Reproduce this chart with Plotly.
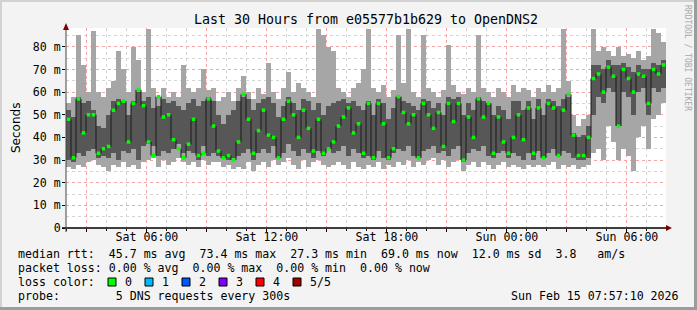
import plotly.graph_objects as go
import pandas as pd

# ---------------- data (ms) : one column = 15 minutes ----------------
lo = [27,26,28,27,29,30,28,27,25,28,27,29,27,28,26,29,30,31,27,30,28,29,31,29,28,29,27,30,28,29,
      29,27,28,26,27,26,29,25,28,29,27,30,28,29,31,28,26,30,27,29,30,28,27,28,29,28,26,29,27,26,
      28,27,29,26,28,27,29,28,30,27,29,28,30,31,28,30,27,29,30,25,28,29,27,29,28,26,28,29,27,28,
      27,26,28,27,28,27,28,29,26,28,27,28,26,27,28,33,35,30,45,38,30,35,32,25,40,45,35,48,50,55]
q1 = [30,29,33,32,34,35,31,32,31,33,30,34,33,35,30,36,37,36,32,34,33,35,37,33,34,33,30,36,32,33,
      32,31,30,31,32,33,35,30,33,35,33,36,31,33,37,34,32,35,33,31,34,32,35,33,34,36,32,35,33,31,
      32,30,34,31,30,33,35,34,36,32,31,34,35,36,33,34,32,35,36,29,33,35,34,36,32,31,33,34,31,33,
      32,30,33,30,34,31,33,35,32,34,33,31,30,30,31,50,58,55,62,60,45,60,58,50,60,62,50,62,60,62]
q3 = [52,49,58,55,56,52,45,44,50,56,57,55,50,56,60,56,58,53,54,57,55,56,54,52,55,57,54,56,58,56,
      50,46,50,52,56,58,57,52,55,57,58,55,49,54,58,55,52,57,56,52,55,50,54,55,56,57,55,56,54,52,
      56,50,57,55,48,53,58,56,55,54,52,57,56,53,55,50,58,57,58,50,55,52,58,56,55,50,54,52,48,56,
      56,52,56,48,57,50,57,56,54,57,58,42,40,41,45,72,72,70,74,72,72,73,71,69,72,70,70,73,72,74]
hi = [55,58,85,72,60,87,60,58,62,65,78,70,60,80,74,60,88,62,58,62,58,60,58,72,62,60,62,70,61,62,
      56,58,60,56,62,67,60,57,62,59,73,60,57,62,69,60,64,62,60,58,88,85,80,78,62,60,58,62,64,70,
      88,62,60,63,58,61,85,64,88,60,58,85,62,60,58,61,81,63,60,59,62,60,85,62,60,58,62,60,58,63,
      60,62,61,58,62,60,63,60,62,88,65,50,45,48,50,88,78,80,78,76,80,76,77,75,78,74,76,88,86,82]
med = [48,31,57,42,50,50,33,35,36,52,55,56,38,55,61,54,38,32,58,49,50,39,35,31,37,48,32,33,57,45,
       34,31,32,30,38,59,48,33,43,52,41,40,31,48,56,50,40,52,44,34,48,33,35,38,45,49,53,42,46,33,
       55,31,55,46,31,35,58,51,46,50,31,55,50,44,51,36,55,47,55,30,49,40,57,49,55,33,49,38,33,40,
       50,39,53,33,53,31,55,53,32,52,59,41,32,32,40,66,68,60,71,67,45,70,66,60,68,67,55,70,68,72]

y_ticks = [0, 10, 20, 30, 40, 50, 60, 70, 80]
y_tick_text = ["0", "10 m", "20 m", "30 m", "40 m", "50 m", "60 m", "70 m", "80 m"]
x_tick_vals = ["2026-02-14 03:00", "2026-02-14 06:00", "2026-02-14 09:00", "2026-02-14 12:00",
               "2026-02-14 15:00", "2026-02-14 18:00", "2026-02-14 21:00", "2026-02-15 00:00",
               "2026-02-15 03:00", "2026-02-15 06:00"]
x_tick_text = ["", "Sat 06:00", "", "Sat 12:00", "", "Sat 18:00", "", "Sun 00:00", "", "Sun 06:00"]

t_start = pd.Timestamp("2026-02-14 01:57:10")
t_end = pd.Timestamp("2026-02-15 07:57:10")
step = pd.Timedelta(minutes=15)
n = len(med)
edges = [t_start + i * step for i in range(n + 1)]
centers = [t_start + (i + 0.5) * step for i in range(n)]
width_ms = step.total_seconds() * 1000

loss_labels = ["0", "1", "2", "3", "4", "5/5"]
loss_colors = ["#00ff00", "#00b8ff", "#0059ff", "#7e00ff", "#ff0000", "#a00000"]

MONO = "DejaVu Sans Mono"

fig = go.Figure()
fig.add_trace(go.Bar(x=centers, y=[h - l for h, l in zip(hi, lo)], base=lo, width=width_ms,
                     marker=dict(color="#a6a6a6", line=dict(width=0)), hoverinfo="skip"))
fig.add_trace(go.Bar(x=centers, y=[h - l for h, l in zip(q3, q1)], base=q1, width=width_ms,
                     marker=dict(color="#575757", line=dict(width=0)), hoverinfo="skip"))
# median line (vertical jumps)
vx, vy = [], []
for i in range(n - 1):
    vx += [edges[i + 1], edges[i + 1], None]
    vy += [med[i], med[i + 1], None]
fig.add_trace(go.Scatter(x=vx, y=vy, mode="lines", line=dict(color="#1a1a1a", width=1),
                         hoverinfo="skip"))
fig.add_trace(go.Scatter(x=centers, y=med, mode="markers",
                         marker=dict(symbol="square", size=3.5, color="#00ff00", line=dict(width=0)),
                         hoverinfo="skip"))

W, H = 697, 310
L, R, T, B = 66, 31, 28, 82
pw, ph = W - L - R, H - T - B


def px(x):
    return (x - L) / pw


def py(y):
    return (H - B - y) / ph


shapes = []
# frame
shapes.append(dict(type="rect", xref="paper", yref="paper", x0=px(0), x1=px(W), y0=py(0), y1=py(2),
                   fillcolor="#d2d2d2", line=dict(width=0), layer="below"))
shapes.append(dict(type="rect", xref="paper", yref="paper", x0=px(0), x1=px(2), y0=py(0), y1=py(H),
                   fillcolor="#d2d2d2", line=dict(width=0), layer="below"))
shapes.append(dict(type="rect", xref="paper", yref="paper", x0=px(W - 3), x1=px(W), y0=py(0), y1=py(H),
                   fillcolor="#9c9c9c", line=dict(width=0)))
shapes.append(dict(type="rect", xref="paper", yref="paper", x0=px(0), x1=px(W), y0=py(H - 3), y1=py(H),
                   fillcolor="#9c9c9c", line=dict(width=0)))
# axis lines
shapes.append(dict(type="line", xref="paper", yref="paper", x0=px(62), x1=px(667), y0=0, y1=0,
                   line=dict(color="#000000", width=1.5)))
shapes.append(dict(type="line", xref="paper", yref="paper", x0=0, x1=0, y0=py(232), y1=py(30),
                   line=dict(color="#444444", width=1)))
# arrows
shapes.append(dict(type="path", xref="paper", yref="paper",
                   path=f"M {px(666)},{py(225)} L {px(672)},{py(228)} L {px(666)},{py(231)} Z",
                   fillcolor="#7f0000", line=dict(width=0)))
shapes.append(dict(type="path", xref="paper", yref="paper",
                   path=f"M {px(63)},{py(30)} L {px(66)},{py(23)} L {px(69)},{py(30)} Z",
                   fillcolor="#7f0000", line=dict(width=0)))
# loss colour boxes
bx = [108, 145, 182, 219, 256, 293]
for x0, c in zip(bx, loss_colors):
    shapes.append(dict(type="rect", xref="paper", yref="paper", x0=px(x0), x1=px(x0 + 8),
                       y0=py(286), y1=py(278), fillcolor=c, line=dict(color="#000000", width=1)))

font_small = dict(family=MONO, size=11.6, color="#000000")
annotations = []


def txt(x, y, s, anchor="left", **kw):
    annotations.append(dict(xref="paper", yref="paper", x=px(x), y=py(y), text=s, showarrow=False,
                            xanchor=anchor, yanchor="middle", font=kw.get("font", font_small)))


txt(16, 254, "median rtt:  45.7 ms avg  73.4 ms max  27.3 ms min  69.0 ms now  12.0 ms sd  3.8   am/s".replace(" ", "&nbsp;"))
txt(16, 268, "packet loss: 0.00 % avg  0.00 % max  0.00 % min  0.00 % now".replace(" ", "&nbsp;"))
txt(16, 282, "loss color:")
for x0, lab in zip(bx, loss_labels):
    txt(x0 + 15, 282, lab)
txt(16, 296, "probe:        5 DNS requests every 300s".replace(" ", "&nbsp;"))
txt(681, 296, "Sun Feb 15 07:57:10 2026".replace(" ", "&nbsp;"), anchor="right")
annotations.append(dict(xref="paper", yref="paper", x=px(16), y=py(128), text="Seconds", showarrow=False,
                        textangle=-90, xanchor="center", yanchor="middle",
                        font=dict(family="DejaVu Sans", size=12, color="#000000")))
annotations.append(dict(xref="paper", yref="paper", x=px(688), y=py(58), text="RRDTOOL / TOBI OETIKER",
                        showarrow=False, textangle=90, xanchor="center", yanchor="middle",
                        font=dict(family=MONO, size=8, color="#a8a8a8")))

fig.update_layout(
    width=W, height=H, margin=dict(l=L, r=R, t=T, b=B, pad=0),
    paper_bgcolor="#f3f3f3", plot_bgcolor="#ffffff",
    barmode="overlay", bargap=0, showlegend=False,
    title=dict(text="Last 30 Hours from e05577b1b629 to OpenDNS2", x=0.5, xanchor="center",
               xref="paper", y=1 - 19 / H, yanchor="middle",
               font=dict(family=MONO, size=13.3, color="#000000")),
    shapes=shapes, annotations=annotations,
    xaxis=dict(type="date", range=[t_start, t_end], tickmode="array", tickvals=x_tick_vals,
               ticktext=x_tick_text, showgrid=True, gridcolor="#f2a6a6", griddash="dot", gridwidth=1,
               minor=dict(dtick=3600000, showgrid=True, gridcolor="#d4d4d4", griddash="dot",
                          ticks="outside", ticklen=2, tickcolor="#000000"),
               ticks="outside", ticklen=3, tickcolor="#000000", showline=False, zeroline=False,
               tickfont=font_small, layer="above traces", fixedrange=True, ticklabelstandoff=-5),
    yaxis=dict(range=[0, 88.3], tickmode="array", tickvals=y_ticks, ticktext=y_tick_text,
               showgrid=True, gridcolor="#f2a6a6", griddash="dot", gridwidth=1,
               minor=dict(dtick=5, showgrid=True, gridcolor="#d4d4d4", griddash="dot"),
               ticks="outside", ticklen=3, tickcolor="#000000", showline=False, zeroline=False,
               tickfont=font_small, layer="above traces", fixedrange=True, ticklabelstandoff=-1),
)

fig.write_html("out.html")
